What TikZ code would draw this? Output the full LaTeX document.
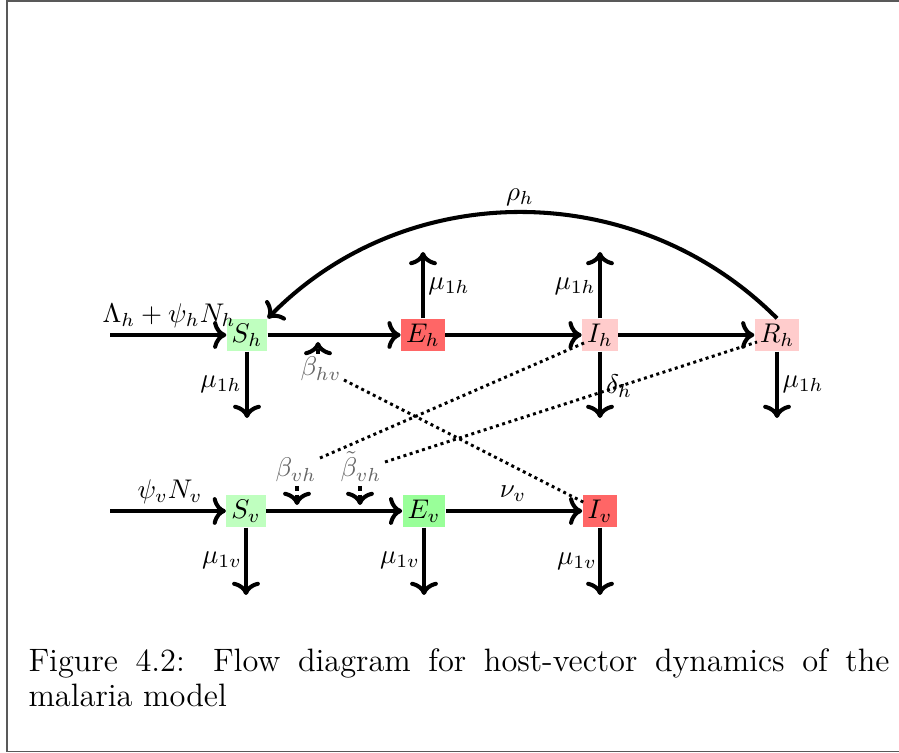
\documentclass[tikz,border=0pt]{standalone}
\usetikzlibrary{arrows.meta}
\begin{document}
\begin{tikzpicture}[x=0.3704pt,y=-0.3704pt,
  box/.style={rectangle, inner sep=1.8pt},
  flow/.style={line width=1.5pt, ->},
  trig/.style={line width=1.5pt, ->, dash pattern=on 2pt off 1.2pt},
  dots/.style={line width=1.1pt, dash pattern=on 1.1pt off 1.3pt},
  lab/.style={inner sep=0pt},
  glab/.style={inner sep=0pt, text=black!60, anchor=base},
  frame/.style={draw=black!65, line width=0.6pt}]
\useasboundingbox (0,0) rectangle (899,753);
\draw[frame] (6.7,1.2) rectangle (930,751.5);

% host row
\node[box, fill=green!25] (Sh) at (247,335) {$S_h$};
\node[box, fill=red!60] (Eh) at (423,335) {$E_h$};
\node[box, fill=red!20] (Ih) at (600,335) {$I_h$};
\node[box, fill=red!20] (Rh) at (777,335) {$R_h$};
% vector row
\node[box, fill=green!25] (Sv) at (246,511) {$S_v$};
\node[box, fill=green!40] (Ev) at (424,511) {$E_v$};
\node[box, fill=red!60] (Iv) at (600,511) {$I_v$};

% free ends
\coordinate (inh) at (110,335);
\coordinate (inv) at (110,511);
\coordinate (ShD) at (247,418);
\coordinate (EhU) at (423,252);
\coordinate (IhU) at (600,252);
\coordinate (IhD) at (600,418);
\coordinate (RhD) at (777,418);
\coordinate (SvD) at (246,595);
\coordinate (EvD) at (424,595);
\coordinate (IvD) at (600,595);

% flows
\draw[flow] (inh) -- (Sh);
\draw[flow] (Sh) -- (Eh);
\draw[flow] (Eh) -- (Ih);
\draw[flow] (Ih) -- (Rh);
\draw[flow] (Rh.north) .. controls (636,177) and (406,177) .. (Sh.north east);
\draw[flow] (Sh) -- (ShD);
\draw[flow] (Eh) -- (EhU);
\draw[flow] (Ih) -- (IhU);
\draw[flow] (Ih) -- (IhD);
\draw[flow] (Rh) -- (RhD);
\draw[flow] (inv) -- (Sv);
\draw[flow] (Sv) -- (Ev);
\draw[flow] (Ev) -- (Iv);
\draw[flow] (Sv) -- (SvD);
\draw[flow] (Ev) -- (EvD);
\draw[flow] (Iv) -- (IvD);

% labels
\node[lab] (lLam) at (169,316) {$\Lambda_h+\psi_hN_h$};
\node[lab] (lpsi) at (170,492) {$\psi_vN_v$};
\node[lab] (lrho) at (520,197) {$\rho_h$};
\node[lab] (lmuE) at (449,286) {$\mu_{1h}$};
\node[lab] (lmuIu) at (575,286) {$\mu_{1h}$};
\node[lab] (lmuS) at (221,384) {$\mu_{1h}$};
\node[lab] (ldelta) at (619,386) {$\delta_h$};
\node[lab] (lmuR) at (803,384) {$\mu_{1h}$};
\node[lab] (lnu) at (513,494) {$\nu_v$};
\node[lab] (lmuSv) at (222,560) {$\mu_{1v}$};
\node[lab] (lmuEv) at (400,560) {$\mu_{1v}$};
\node[lab] (lmuIv) at (577,561) {$\mu_{1v}$};

% infection triggers
\node[glab] (bhv) at (321,376) {$\beta_{hv}$};
\node[glab] (bvh) at (296,477) {$\beta_{vh}$};
\node[glab] (bvht) at (361,477) {$\tilde\beta_{vh}$};
\coordinate (thv0) at (318,354);
\coordinate (thv1) at (318,342);
\coordinate (tvh0) at (297,486);
\coordinate (tvh1) at (297,505);
\coordinate (tvht0) at (360,486);
\coordinate (tvht1) at (360,505);
\draw[trig] (thv0) -- (thv1);
\draw[trig] (tvh0) -- (tvh1);
\draw[trig] (tvht0) -- (tvht1);

% dotted interactions
\coordinate (dhv) at (344,380);
\coordinate (dhvE) at (585,503);
\coordinate (dvh) at (320,458);
\coordinate (dvhE) at (584,343);
\coordinate (dvht) at (385,462);
\coordinate (dvhtE) at (757,342);
\draw[dots] (dhv) -- (dhvE);
\draw[dots] (dvh) -- (dvhE);
\draw[dots] (dvht) -- (dvhtE);

% caption
\node[anchor=north west, inner sep=0pt, text width=318.9pt, align=justify,
  font=\fontsize{12}{13}\selectfont] (cap) at (28,648)
  {Figure 4.2: Flow diagram for host-vector dynamics of the\linebreak malaria model};
\end{tikzpicture}
\end{document}
